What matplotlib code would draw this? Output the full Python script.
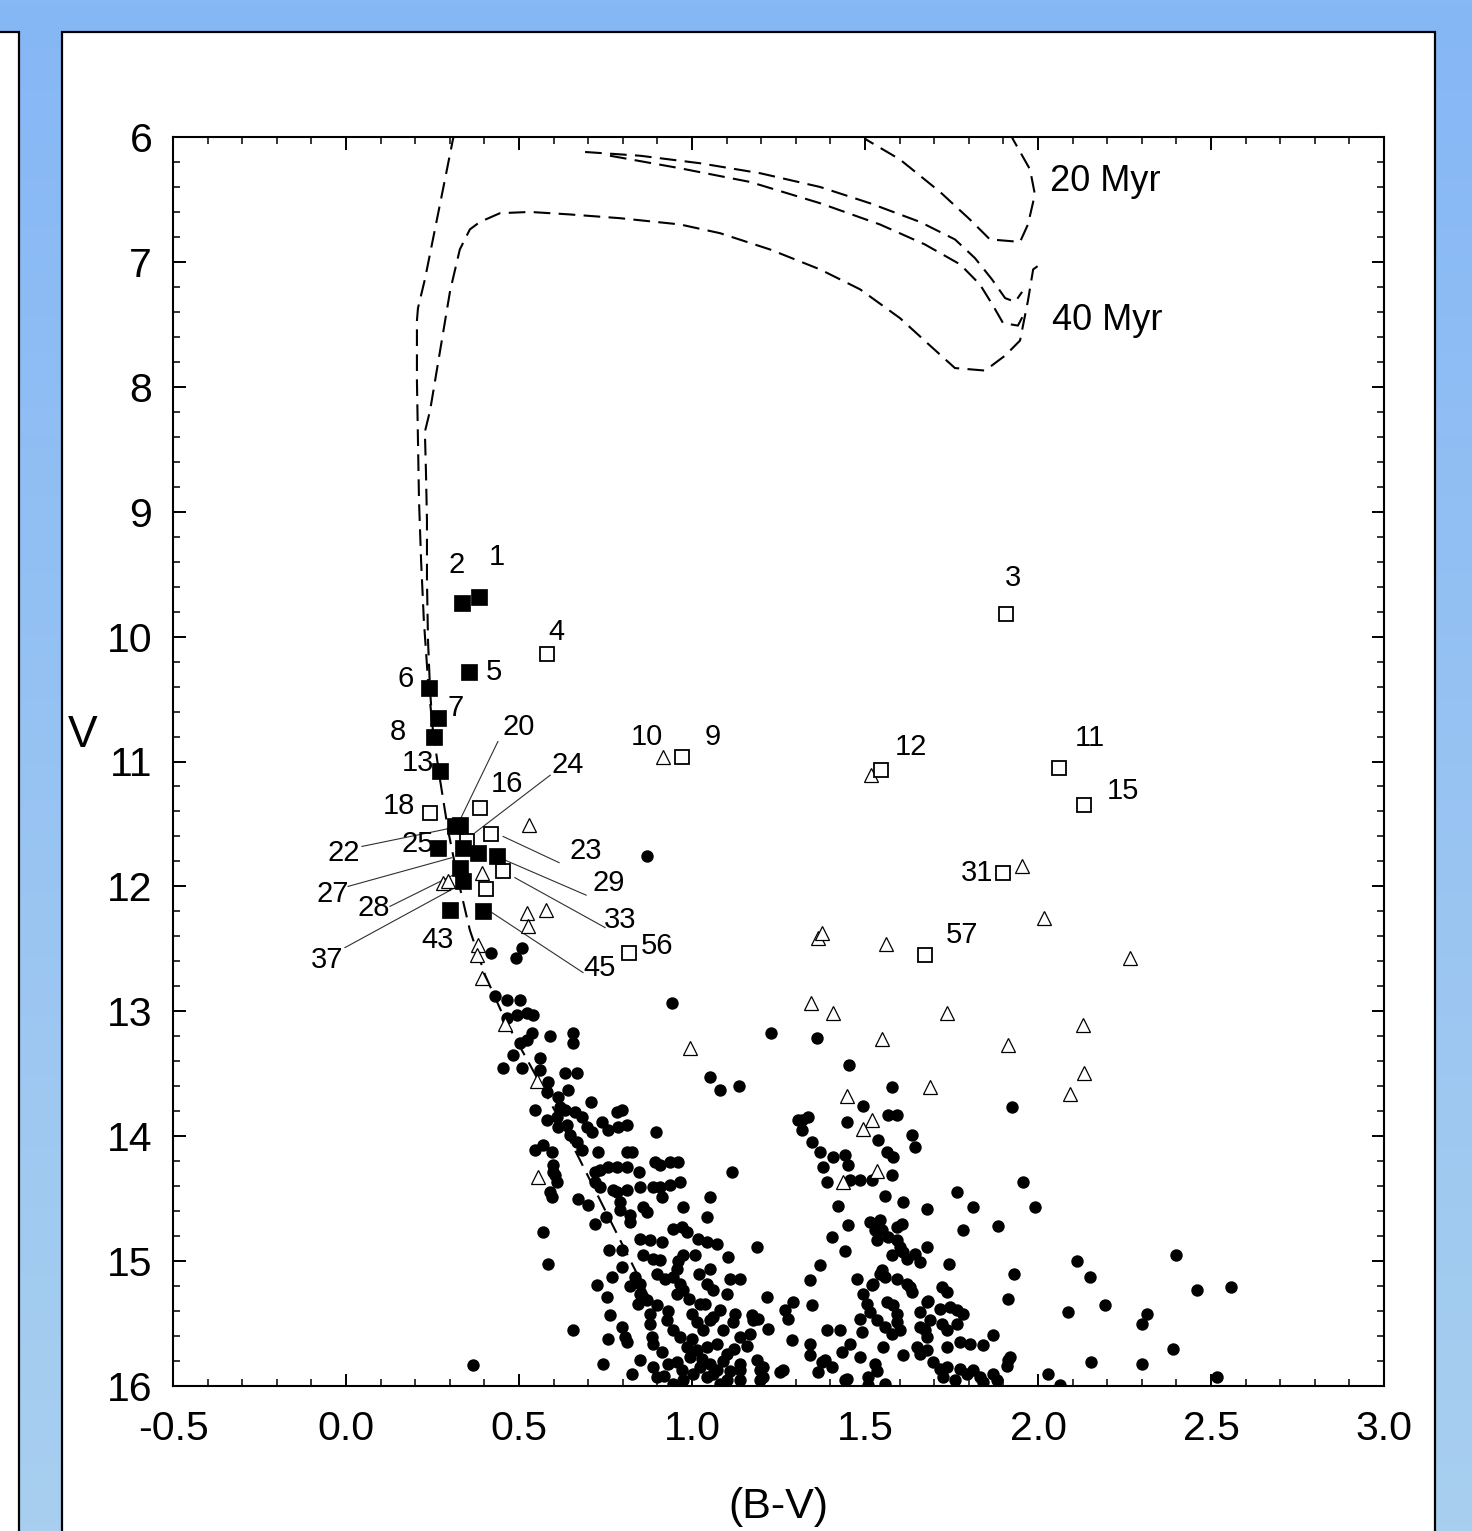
import numpy as np
import matplotlib
matplotlib.use("Agg")
import matplotlib.pyplot as plt
from matplotlib.patches import Rectangle
from matplotlib.ticker import MultipleLocator

plt.rcParams['font.family'] = ['Liberation Sans', 'DejaVu Sans']

# ---------------- data (B-V, V) ----------------
# field stars (filled circles)
field_upper = [
    (0.87, 11.76), (0.42, 12.53), (0.51, 12.49), (0.49, 12.57), (0.43, 12.88), (0.465, 12.91), (0.503, 12.91),
    (0.942, 12.93), (0.465, 13.05), (0.494, 13.03), (0.523, 13.01), (0.541, 13.03), (1.228, 13.17), (0.590, 13.20),
    (0.656, 13.17), (0.656, 13.25), (0.538, 13.17), (0.523, 13.23), (0.503, 13.25), (0.483, 13.35), (0.561, 13.37),
    (0.454, 13.45), (0.509, 13.45), (0.561, 13.47), (0.633, 13.49), (0.668, 13.49), (0.584, 13.57), (0.642, 13.63),
    (0.581, 13.65), (0.613, 13.69), (0.708, 13.73), (0.546, 13.79), (0.618, 13.77), (0.633, 13.79), (0.610, 13.85),
    (0.662, 13.81), (0.682, 13.85), (0.581, 13.87), (0.613, 13.93), (0.639, 13.91), (0.697, 13.93), (0.711, 13.97),
    (0.740, 13.89), (0.783, 13.81), (0.798, 13.79), (0.757, 13.95), (0.786, 13.93), (0.812, 13.91), (0.896, 13.97),
    (1.052, 13.53), (1.081, 13.63), (1.136, 13.60), (1.116, 14.29), (1.306, 13.87),
]
field_ms = [
    (0.647, 13.99), (0.668, 14.05), (0.546, 14.11), (0.569, 14.07), (0.595, 14.13), (0.682, 14.11), (0.728, 14.13),
    (0.812, 14.13), (0.827, 14.13), (0.598, 14.23), (0.598, 14.29), (0.720, 14.29), (0.734, 14.27), (0.757, 14.25),
    (0.783, 14.25), (0.812, 14.25), (0.847, 14.29), (0.893, 14.21), (0.908, 14.23), (0.936, 14.21), (0.959, 14.21),
    (0.887, 14.41), (0.908, 14.41), (0.936, 14.39), (0.965, 14.37), (0.610, 14.37), (0.720, 14.37), (0.734, 14.41),
    (0.772, 14.43), (0.812, 14.43), (0.590, 14.45), (0.850, 14.41), (1.052, 14.49), (0.604, 14.31), (0.595, 14.49),
    (0.569, 14.77), (0.584, 15.02), (0.656, 15.55), (0.783, 14.45), (0.914, 14.49), (0.974, 14.57), (1.043, 14.65),
    (0.792, 14.53), (0.792, 14.59), (0.821, 14.63), (0.821, 14.69), (0.858, 14.57), (0.870, 14.61), (0.720, 14.70),
    (0.850, 14.82), (0.879, 14.83), (0.914, 14.85), (0.945, 14.74), (0.971, 14.73), (0.986, 14.77), (1.017, 14.82),
    (1.043, 14.85), (1.072, 14.86), (0.760, 14.91), (0.798, 14.91), (0.858, 14.95), (0.887, 14.98), (0.908, 14.99),
    (0.974, 14.95), (1.009, 14.95), (1.104, 14.97), (1.188, 14.89), (0.798, 15.05), (0.769, 15.13), (0.835, 15.13),
    (0.725, 15.19), (0.754, 15.29), (0.763, 15.43), (0.850, 15.18), (0.850, 15.26), (0.844, 15.34), (0.870, 15.31),
    (0.879, 15.42), (0.899, 15.10), (0.922, 15.14), (0.945, 15.13), (0.957, 15.06), (0.965, 15.18), (0.974, 15.23),
    (0.957, 15.26), (1.052, 15.06), (1.043, 15.18), (1.061, 15.23), (1.110, 15.14), (1.139, 15.14), (1.101, 15.26),
    (1.023, 15.34), (1.038, 15.34), (1.081, 15.39), (1.124, 15.42), (1.173, 15.43), (1.191, 15.46), (1.217, 15.29),
    (1.269, 15.39), (1.277, 15.46), (1.292, 15.33), (1.341, 15.15), (1.347, 15.35), (1.220, 15.54), (1.289, 15.63),
    (0.90, 15.35), (0.93, 15.40), (0.99, 15.30), (1.00, 15.42), (1.06, 15.45), (0.82, 15.20), (0.88, 15.50),
    (0.70, 14.55), (0.75, 14.65), (0.67, 14.50), (0.96, 15.00), (1.02, 15.10),
]
field_faint = [
    (1.341, 15.66), (1.341, 15.75), (1.390, 15.55), (1.428, 15.55), (1.457, 15.66), (1.434, 15.73), (1.376, 15.81),
    (1.405, 15.85), (1.364, 15.89), (1.442, 15.95), (1.254, 15.89), (0.928, 15.47), (0.945, 15.55), (0.965, 15.61),
    (0.986, 15.69), (1.014, 15.49), (1.032, 15.55), (1.052, 15.47), (1.090, 15.55), (1.118, 15.49), (1.139, 15.61),
    (1.168, 15.58), (1.176, 15.47), (0.798, 15.53), (0.806, 15.61), (0.812, 15.65), (0.757, 15.62), (0.743, 15.82),
    (0.827, 15.90), (0.850, 15.79), (0.884, 15.61), (0.887, 15.66), (0.913, 15.73), (0.887, 15.85), (0.899, 15.93),
    (0.931, 15.82), (0.957, 15.81), (0.945, 15.98), (0.974, 15.95), (1.003, 15.90), (1.023, 15.85), (1.052, 15.82),
    (0.994, 15.77), (1.014, 15.71), (1.043, 15.69), (1.072, 15.66), (1.101, 15.74), (1.043, 15.93), (1.072, 15.87),
    (1.101, 15.95), (1.139, 15.82), (1.139, 15.87), (1.139, 15.95), (1.188, 15.79), (1.197, 15.87), (1.197, 15.95),
    (1.263, 15.87), (0.367, 15.83), (1.205, 15.85), (1.205, 15.93),
    (1.00, 15.62), (1.03, 15.78), (1.06, 15.90), (1.09, 15.80), (1.12, 15.70), (1.08, 15.98), (0.97, 15.87),
    (1.16, 15.68), (1.11, 15.88), (0.92, 15.92),
]
field_red = [
    (1.361, 13.21), (1.454, 13.43), (1.578, 13.61), (1.494, 13.76), (1.566, 13.83), (1.592, 13.83), (1.925, 13.77),
    (1.318, 13.87), (1.335, 13.85), (1.318, 13.95), (1.448, 13.89), (1.636, 13.99), (1.644, 14.09), (1.538, 14.03),
    (1.347, 14.05), (1.370, 14.13), (1.407, 14.17), (1.442, 14.15), (1.451, 14.23), (1.564, 14.13), (1.581, 14.17),
    (1.379, 14.25), (1.578, 14.31), (1.457, 14.35), (1.486, 14.35), (1.520, 14.35), (1.390, 14.37), (1.957, 14.37),
    (1.766, 14.45), (1.558, 14.48), (1.610, 14.53), (1.679, 14.58), (1.812, 14.57), (1.422, 14.56), (1.991, 14.57),
    (1.451, 14.71), (1.514, 14.69), (1.543, 14.67), (1.529, 14.75), (1.549, 14.75), (1.592, 14.73), (1.607, 14.70),
    (1.783, 14.75), (1.884, 14.72), (1.405, 14.81), (1.535, 14.83), (1.566, 14.81), (1.592, 14.83), (1.601, 14.89),
    (1.442, 14.92), (1.578, 14.95), (1.610, 14.93), (1.621, 14.98), (1.644, 14.94), (1.659, 15.01), (1.679, 14.89),
    (1.743, 15.02), (1.370, 15.03), (1.477, 15.14), (1.549, 15.07), (1.558, 15.13), (1.592, 15.14), (1.523, 15.18),
    (1.494, 15.26), (1.621, 15.18), (1.636, 15.25), (1.723, 15.21), (1.737, 15.25), (1.931, 15.10), (1.913, 15.30),
    (1.506, 15.34), (1.514, 15.41), (1.535, 15.47), (1.558, 15.53), (1.578, 15.58), (1.564, 15.33), (1.581, 15.35),
    (1.592, 15.42), (1.592, 15.49), (1.601, 15.55), (1.659, 15.41), (1.679, 15.33), (1.688, 15.47), (1.717, 15.38),
    (1.746, 15.37), (1.766, 15.39), (1.783, 15.42), (1.659, 15.53), (1.679, 15.61), (1.723, 15.50), (1.737, 15.55),
    (1.766, 15.50), (1.486, 15.46), (1.491, 15.57), (1.552, 15.69), (1.610, 15.75), (1.650, 15.69), (1.659, 15.74),
    (1.679, 15.71), (1.737, 15.69), (1.775, 15.65), (1.803, 15.66), (1.841, 15.67), (1.870, 15.59), (1.697, 15.81),
    (1.717, 15.86), (1.737, 15.85), (1.725, 15.93), (1.775, 15.86), (1.795, 15.90), (1.812, 15.87), (1.832, 15.93),
    (1.870, 15.90), (1.882, 15.95), (1.913, 15.79), (1.919, 15.77), (2.029, 15.90), (1.448, 15.94), (1.509, 15.93),
    (1.509, 15.99), (1.529, 15.82), (1.558, 15.98), (2.064, 15.99), (1.486, 15.77), (1.384, 15.79), (1.520, 15.19),
    (1.543, 15.10), (1.630, 15.21), (1.673, 15.55), (1.682, 15.32), (1.535, 15.88), (1.760, 15.95), (1.841, 15.97),
    (2.113, 15.00), (2.150, 15.13), (2.087, 15.41), (2.194, 15.35), (2.301, 15.50), (2.315, 15.42), (2.399, 14.95),
    (2.460, 15.23), (2.558, 15.21), (2.390, 15.70), (1.910, 15.84), (2.153, 15.81), (2.301, 15.82), (2.517, 15.93),
]

# numbered members (filled squares)
member_bv = [0.384, 0.335, 0.355, 0.240, 0.266, 0.254, 0.272, 0.315, 0.329, 0.266, 0.338, 0.382, 0.436,
             0.329, 0.338, 0.301, 0.396]
member_v = [9.68, 9.73, 10.28, 10.41, 10.65, 10.80, 11.08, 11.52, 11.51, 11.69, 11.69, 11.73, 11.76,
            11.85, 11.96, 12.19, 12.20]

# open squares
open_sq_bv = [1.908, 0.581, 0.971, 1.546, 2.061, 2.133, 0.243, 0.387, 0.419, 0.350, 0.454, 0.405, 1.899, 1.673, 0.818]
open_sq_v = [9.82, 10.14, 10.96, 11.07, 11.05, 11.35, 11.41, 11.37, 11.58, 11.64, 11.88, 12.02, 11.89, 12.55, 12.53]

# open triangles
tri_bv = [0.916, 1.517, 0.529, 1.954, 0.393, 0.280, 0.295, 0.523, 0.578, 0.526, 2.017, 1.364, 1.376, 1.561,
          2.266, 0.382, 0.379, 0.393, 1.344, 1.408, 1.737, 2.130, 0.460, 0.994, 1.549, 1.913, 2.133, 2.092,
          1.688, 1.448, 1.520, 1.494, 0.552, 1.535, 1.436, 0.555]
tri_v = [10.96, 11.11, 11.51, 11.84, 11.89, 11.97, 11.96, 12.21, 12.19, 12.32, 12.25, 12.41, 12.37, 12.46,
         12.57, 12.47, 12.55, 12.73, 12.93, 13.01, 13.01, 13.11, 13.10, 13.29, 13.22, 13.27, 13.49, 13.66,
         13.61, 13.68, 13.87, 13.94, 13.56, 14.28, 14.37, 14.33]

# star labels
label_text = ['1', '2', '3', '4', '5', '6', '7', '8', '9', '10', '11', '12', '13', '15', '16', '18', '20', '24',
              '22', '25', '23', '27', '29', '28', '33', '43', '56', '37', '45', '31', '57']
label_bv = [0.436, 0.321, 1.928, 0.607, 0.428, 0.173, 0.318, 0.150, 1.061, 0.870, 2.150, 1.633, 0.208, 2.246,
            0.465, 0.153, 0.500, 0.642, -0.006, 0.208, 0.694, -0.038, 0.760, 0.081, 0.792, 0.266, 0.899,
            -0.055, 0.734, 1.824, 1.780]
label_v = [9.36, 9.43, 9.53, 9.96, 10.28, 10.34, 10.57, 10.76, 10.80, 10.80, 10.81, 10.88, 11.01, 11.24,
           11.18, 11.36, 10.72, 11.03, 11.73, 11.66, 11.72, 12.06, 11.97, 12.17, 12.27, 12.43, 12.48,
           12.59, 12.65, 11.89, 12.39]

# leader lines (x0, y0, x1, y1)
leaders = [(0.439, 10.84, 0.329, 11.47), (0.590, 11.11, 0.373, 11.57), (0.046, 11.68, 0.292, 11.54),
           (0.454, 11.60, 0.616, 11.81), (0.006, 12.00, 0.306, 11.77), (0.460, 11.79, 0.694, 12.07),
           (0.127, 12.16, 0.309, 11.91), (0.488, 11.93, 0.749, 12.33), (-0.003, 12.49, 0.315, 12.01),
           (0.422, 12.21, 0.685, 12.69)]

# isochrones
iso20_bv = [0.879, 0.792, 0.705, 0.618, 0.532, 0.460, 0.402, 0.358, 0.324, 0.295, 0.272, 0.251, 0.237, 0.225,
            0.217, 0.211, 0.208, 0.205, 0.205, 0.208, 0.228, 0.257, 0.286, 0.309, 0.324]
iso20_v = [15.31, 14.83, 14.35, 13.87, 13.43, 13.07, 12.71, 12.35, 11.95, 11.55, 11.15, 10.75, 10.35, 9.87,
           9.39, 8.91, 8.43, 7.95, 7.47, 7.37, 7.14, 6.74, 6.34, 6.02, 5.86]
iso20_giant_bv = [1.45, 1.503, 1.601, 1.717, 1.803, 1.861, 1.948, 1.971, 1.991, 1.977, 1.928, 1.90]
iso20_giant_v = [5.80, 6.02, 6.18, 6.44, 6.66, 6.82, 6.84, 6.70, 6.46, 6.26, 6.02, 5.85]
iso40_bv = [0.251, 0.243, 0.237, 0.234, 0.234, 0.231, 0.228, 0.243, 0.272, 0.301, 0.329, 0.358, 0.387, 0.445,
            0.532, 0.647, 0.792, 0.965, 1.081, 1.225, 1.370, 1.486, 1.601, 1.688, 1.760, 1.847, 1.905, 1.948,
            1.971, 1.986, 2.006]
iso40_v = [10.75, 10.43, 10.03, 9.55, 9.07, 8.67, 8.36, 8.19, 7.71, 7.23, 6.90, 6.74, 6.68, 6.61, 6.60, 6.62,
           6.65, 6.70, 6.77, 6.90, 7.06, 7.22, 7.45, 7.67, 7.85, 7.87, 7.75, 7.63, 7.31, 7.06, 7.02]
isoA_bv = [0.691, 0.850, 1.023, 1.197, 1.370, 1.514, 1.659, 1.760, 1.818, 1.867, 1.905, 1.934, 1.954]
isoA_v = [6.12, 6.15, 6.21, 6.29, 6.40, 6.53, 6.68, 6.82, 6.97, 7.14, 7.29, 7.32, 7.24]
isoB_bv = [0.763, 0.965, 1.168, 1.370, 1.543, 1.673, 1.775, 1.832, 1.870, 1.899, 1.942, 1.957]
isoB_v = [6.15, 6.25, 6.36, 6.53, 6.70, 6.86, 7.02, 7.18, 7.35, 7.49, 7.51, 7.43]

x_ticks = [-0.5, 0.0, 0.5, 1.0, 1.5, 2.0, 2.5, 3.0]
y_ticks = [6, 7, 8, 9, 10, 11, 12, 13, 14, 15, 16]

# ---------------- figure ----------------
W, H = 1472, 1531
fig = plt.figure(figsize=(W / 100, H / 100), dpi=100)

bg = fig.add_axes([0, 0, 1, 1])
bg.set_xlim(0, 1)
bg.set_ylim(0, 1)
bg.axis('off')
top_c = np.array([0x86, 0xB7, 0xF6]) / 255
bot_c = np.array([0xA8, 0xCF, 0xEF]) / 255
t = np.linspace(0, 1, 256)[:, None]
grad = (top_c[None, :] * (1 - t) + bot_c[None, :] * t)[:, None, :]
bg.imshow(grad, aspect='auto', extent=[0, 1, 0, 1], zorder=0)
bg.add_patch(Rectangle((62 / W, -0.01), (1435 - 62) / W, 1 - 32 / H + 0.01, facecolor='white',
                       edgecolor='black', linewidth=1.6, zorder=1))
bg.add_patch(Rectangle((-0.01, -0.01), 0.01 + 19 / W, 1 - 32 / H + 0.01, facecolor='white',
                       edgecolor='black', linewidth=1.6, zorder=1))

ax = fig.add_axes([173 / W, 1 - 1386 / H, (1384 - 173) / W, (1386 - 137) / H])
ax.set_facecolor('white')
ax.set_xlim(-0.5, 3.0)
ax.set_ylim(16, 6)

dash = (0, (8, 4))
for xs, ys in [(iso20_bv, iso20_v), (iso20_giant_bv, iso20_giant_v), (iso40_bv, iso40_v),
               (isoA_bv, isoA_v), (isoB_bv, isoB_v)]:
    ax.plot(xs, ys, color='black', lw=1.5, linestyle=dash, zorder=2)

for x0, y0, x1, y1 in leaders:
    ax.plot([x0, x1], [y0, y1], color='#303030', lw=0.8, zorder=2)

for grp in (field_upper, field_ms, field_faint, field_red):
    gx = [p[0] for p in grp]
    gy = [p[1] for p in grp]
    ax.scatter(gx, gy, s=80, marker='o', color='black', linewidths=0, zorder=3)

ax.plot(tri_bv, tri_v, linestyle='none', marker='^', markersize=9.5, markerfacecolor='white',
        markeredgecolor='black', markeredgewidth=0.9, zorder=4)
ax.plot(open_sq_bv, open_sq_v, linestyle='none', marker='s', markersize=10, markerfacecolor='white',
        markeredgecolor='black', markeredgewidth=1.3, zorder=4)
ax.plot(member_bv, member_v, linestyle='none', marker='s', markersize=11, markerfacecolor='black',
        markeredgecolor='black', markeredgewidth=0.5, zorder=5)

for s, x, y in zip(label_text, label_bv, label_v):
    ax.text(x, y, s, fontsize=21, ha='center', va='center', zorder=6)

ax.text(2.035, 6.36, '20 Myr', fontsize=26, ha='left', va='center')
ax.text(2.040, 7.47, '40 Myr', fontsize=26, ha='left', va='center')

ax.set_xticks(x_ticks)
ax.set_xticklabels([f'{v:.1f}' for v in x_ticks])
ax.set_yticks(y_ticks)
ax.set_yticklabels([str(v) for v in y_ticks])
ax.xaxis.set_minor_locator(MultipleLocator(0.1))
ax.yaxis.set_minor_locator(MultipleLocator(0.2))
ax.tick_params(which='both', direction='in', top=True, right=True)
ax.tick_params(which='major', length=9, width=1.4, labelsize=29.5)
ax.tick_params(which='minor', length=5, width=1.1)
ax.tick_params(axis='x', which='major', pad=17)
ax.tick_params(axis='y', which='major', pad=15)
for sp in ax.spines.values():
    sp.set_linewidth(1.5)

fig.text(83 / W, 1 - 735 / H, 'V', fontsize=32, ha='center', va='center')
fig.text(778 / W, 1 - 1507 / H, '(B-V)', fontsize=31, ha='center', va='center')

fig.savefig('out.png', dpi=100)
